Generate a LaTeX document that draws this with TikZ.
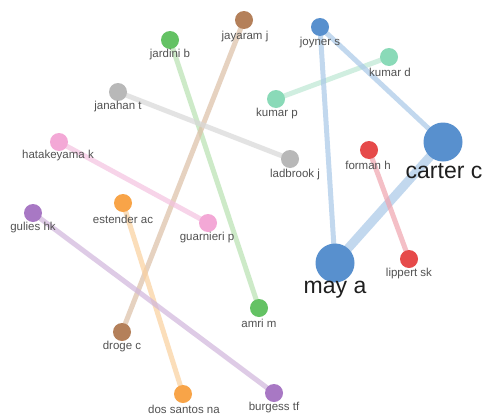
\documentclass[tikz,border=0pt]{standalone}
\usepackage{fontspec}
\setmainfont{Liberation Sans}
\begin{document}
\begin{tikzpicture}[x=1pt,y=-1pt,
  dot/.style={circle,inner sep=0pt,minimum size=18pt,fill=#1},
  big/.style={circle,inner sep=0pt,minimum size=39pt,fill=#1},
  lab/.style={text=black!68,font=\fontsize{11.5}{12}\selectfont,inner sep=0pt},
  biglab/.style={text=black!88,font=\fontsize{23}{26}\selectfont,inner sep=0pt},
  link/.style={line width=5pt,draw=#1,opacity=0.7}]
\definecolor{cblue}{HTML}{5890CE}\definecolor{eblue}{HTML}{A9C8E8}
\definecolor{cgreen}{HTML}{64C264}\definecolor{egreen}{HTML}{B8E2B2}
\definecolor{cbrown}{HTML}{B4805A}\definecolor{ebrown}{HTML}{DCBFA6}
\definecolor{cgray}{HTML}{B8B8B8}\definecolor{egray}{HTML}{D8D8D8}
\definecolor{cpink}{HTML}{F3A8D6}\definecolor{epink}{HTML}{F4C2E0}
\definecolor{corange}{HTML}{F8A448}\definecolor{eorange}{HTML}{FAD09E}
\definecolor{cpurple}{HTML}{A878C4}\definecolor{epurple}{HTML}{D0B6DC}
\definecolor{cmint}{HTML}{8ADAB8}\definecolor{emint}{HTML}{BDE8D4}
\definecolor{cred}{HTML}{E64A4A}\definecolor{ered}{HTML}{F0A4AE}
\fill[white] (0,0) rectangle (484,415);
\useasboundingbox (0,0) rectangle (484,415);
% node positions
\coordinate (pjardini) at (170,40);
\coordinate (pjayaram) at (244,20);
\coordinate (pjanahan) at (118,92);
\coordinate (phatake) at (59,142);
\coordinate (pestender) at (123,203);
\coordinate (pgulies) at (33,213);
\coordinate (pguarnieri) at (208,223);
\coordinate (pdroge) at (122,332);
\coordinate (pdossantos) at (183,394);
\coordinate (pamri) at (259,308);
\coordinate (pburgess) at (274,393);
\coordinate (pjoyner) at (320,27);
\coordinate (pkumard) at (389,57);
\coordinate (pkumarp) at (276,99);
\coordinate (pladbrook) at (290,159);
\coordinate (pforman) at (369,150);
\coordinate (pcarter) at (443,142);
\coordinate (pmay) at (335,263);
\coordinate (plippert) at (409,259);
% edges
\draw[link=egreen] (pjardini) -- (pamri);
\draw[link=ebrown] (pjayaram) -- (pdroge);
\draw[link=egray] (pjanahan) -- (pladbrook);
\draw[link=epink] (phatake) -- (pguarnieri);
\draw[link=eorange] (pestender) -- (pdossantos);
\draw[link=epurple] (pgulies) -- (pburgess);
\draw[link=emint] (pkumarp) -- (pkumard);
\draw[link=eblue] (pjoyner) -- (pmay);
\draw[link=eblue] (pjoyner) -- (pcarter);
\draw[link=eblue,line width=9pt] (pcarter) -- (pmay);
\draw[link=ered] (pforman) -- (plippert);
% nodes
\node[dot=cgreen] (jardini) at (pjardini) {};
\node[dot=cbrown] (jayaram) at (pjayaram) {};
\node[dot=cgray] (janahan) at (pjanahan) {};
\node[dot=cpink] (hatake) at (phatake) {};
\node[dot=corange] (estender) at (pestender) {};
\node[dot=cpurple] (gulies) at (pgulies) {};
\node[dot=cpink] (guarnieri) at (pguarnieri) {};
\node[dot=cbrown] (droge) at (pdroge) {};
\node[dot=corange] (dossantos) at (pdossantos) {};
\node[dot=cgreen] (amri) at (pamri) {};
\node[dot=cpurple] (burgess) at (pburgess) {};
\node[dot=cblue] (joyner) at (pjoyner) {};
\node[dot=cmint] (kumard) at (pkumard) {};
\node[dot=cmint] (kumarp) at (pkumarp) {};
\node[dot=cgray] (ladbrook) at (pladbrook) {};
\node[dot=cred] (forman) at (pforman) {};
\node[big=cblue] (carter) at (pcarter) {};
\node[big=cblue] (may) at (pmay) {};
\node[dot=cred] (lippert) at (plippert) {};
% labels
\node[lab] (ljardini) at (170,55) {jardini b};
\node[lab] (ljayaram) at (245,37) {jayaram j};
\node[lab] (ljanahan) at (118,107) {janahan t};
\node[lab] (lhatake) at (58,156) {hatakeyama k};
\node[lab] (lestender) at (123,219) {estender ac};
\node[lab] (lgulies) at (33,228) {gulies hk};
\node[lab] (lguarnieri) at (207,238) {guarnieri p};
\node[lab] (ldroge) at (122,347) {droge c};
\node[lab] (ldossantos) at (184,409) {dos santos na};
\node[lab] (lamri) at (259,323) {amri m};
\node[lab] (lburgess) at (274,408) {burgess tf};
\node[lab] (ljoyner) at (320,43) {joyner s};
\node[lab] (lkumard) at (390,72) {kumar d};
\node[lab] (lkumarp) at (277,114) {kumar p};
\node[lab] (lladbrook) at (295,175) {ladbrook j};
\node[lab] (lforman) at (368,165) {forman h};
\node[lab] (llippert) at (409,274) {lippert sk};
\node[biglab] (lcarter) at (444,171) {carter c};
\node[biglab] (lmay) at (335,290) {may a};
\end{tikzpicture}
\end{document}
